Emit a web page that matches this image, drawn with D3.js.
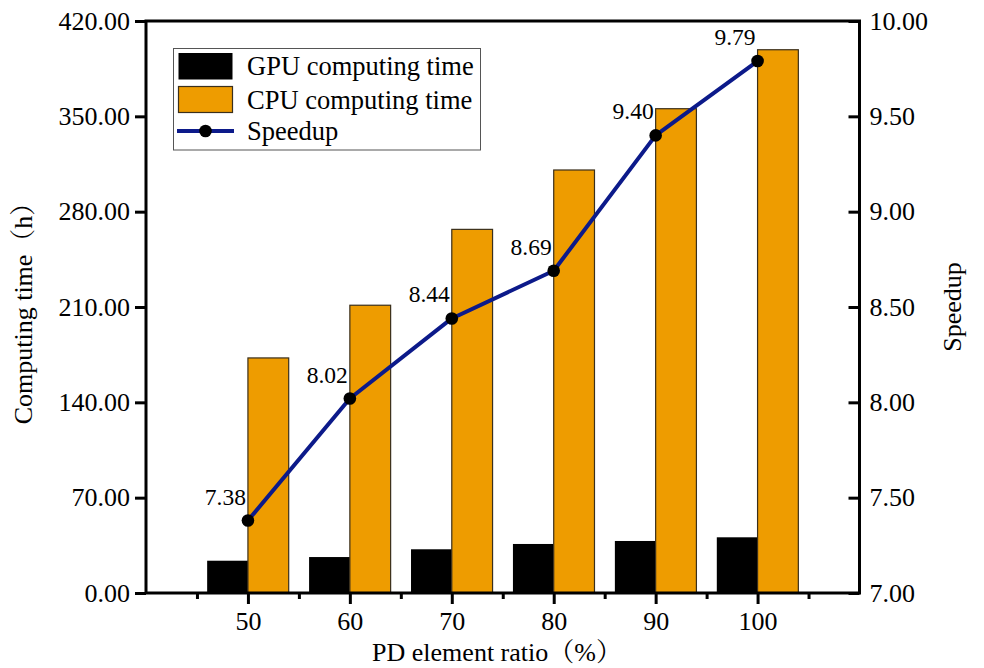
<!DOCTYPE html>
<html>
<head>
<meta charset="utf-8">
<script src="https://cdn.jsdelivr.net/npm/d3@7"></script>
<style>
  html, body { margin: 0; padding: 0; background: #fff; }
</style>
</head>
<body>
<svg id="chart" width="984" height="668"></svg>
<script>
// PD element ratio (%) on the x axis
const ratios = [50, 60, 70, 80, 90, 100];
// computing time in hours
const gpuTime = [23.7, 26.4, 32.1, 36.0, 38.2, 40.9];
const cpuTime = [172.6, 211.3, 267.0, 310.6, 355.6, 398.9];
// speedup = CPU time / GPU time
const speedup = [7.38, 8.02, 8.44, 8.69, 9.40, 9.79];

const leftTicks = [0, 70, 140, 210, 280, 350, 420];
const rightTicks = [7.0, 7.5, 8.0, 8.5, 9.0, 9.5, 10.0];
const minorTicks = [45, 55, 65, 75, 85, 95, 105];

const FONT = '"Liberation Serif", "Times New Roman", "Noto Serif CJK SC", "Noto Sans CJK SC", serif';

const svg = d3.select("#chart");
const m = { left: 146, right: 859.5, top: 21, bottom: 593 };

const x = d3.scaleLinear().domain([40, 110]).range([m.left, m.right]);
const yL = d3.scaleLinear().domain([0, 420]).range([m.bottom, m.top]);
const yR = d3.scaleLinear().domain([7, 10]).range([m.bottom, m.top]);
const barW = x(44) - x(40);

function label(sel, size) {
  return sel.style("font-family", FONT).style("font-size", size + "px").attr("fill", "#000");
}

// bars
const g = svg.append("g");
g.selectAll("rect.gpu").data(ratios).join("rect")
  .attr("class", "gpu")
  .attr("x", (d) => x(d) - barW)
  .attr("y", (d, i) => yL(gpuTime[i]))
  .attr("width", barW)
  .attr("height", (d, i) => yL(0) - yL(gpuTime[i]))
  .attr("fill", "#000");
g.selectAll("rect.cpu").data(ratios).join("rect")
  .attr("class", "cpu")
  .attr("x", (d) => x(d))
  .attr("y", (d, i) => yL(cpuTime[i]))
  .attr("width", barW)
  .attr("height", (d, i) => yL(0) - yL(cpuTime[i]))
  .attr("fill", "#EE9C00")
  .attr("stroke", "#3a2f1c")
  .attr("stroke-width", 1.2);

// speedup line
const line = d3.line().x((d) => x(d)).y((d, i) => yR(speedup[i]));
svg.append("path").datum(ratios)
  .attr("d", line)
  .attr("fill", "none")
  .attr("stroke", "#0c1a8a")
  .attr("stroke-width", 4)
  .attr("stroke-linejoin", "round");
svg.selectAll("circle.pt").data(ratios).join("circle")
  .attr("class", "pt")
  .attr("cx", (d) => x(d))
  .attr("cy", (d, i) => yR(speedup[i]))
  .attr("r", 6.3)
  .attr("fill", "#000");
svg.selectAll("text.val").data(ratios).join("text")
  .attr("class", "val")
  .attr("x", (d) => x(d) - 2)
  .attr("y", (d, i) => yR(speedup[i]) - 16)
  .attr("text-anchor", "end")
  .call(label, 23.5)
  .text((d, i) => speedup[i].toFixed(2));

// axes
const axisW = 3;
function styleAxis(sel) {
  sel.selectAll("path.domain").remove();
  sel.selectAll(".tick line").attr("stroke", "#000").attr("stroke-width", axisW);
  sel.selectAll(".tick text").call(label, 26);
}

const axL = svg.append("g").attr("transform", `translate(${m.left},0)`)
  .call(d3.axisLeft(yL).tickValues(leftTicks).tickSize(11).tickPadding(5).tickFormat(d3.format(".2f")));
styleAxis(axL);

const axR = svg.append("g").attr("transform", `translate(${m.right},0)`)
  .call(d3.axisRight(yR).tickValues(rightTicks).tickSize(0).tickPadding(10).tickFormat(d3.format(".2f")));
styleAxis(axR);
axR.selectAll(".tick line").attr("x1", -11).attr("x2", 0);

const axB = svg.append("g").attr("transform", `translate(0,${m.bottom})`)
  .call(d3.axisBottom(x).tickValues(ratios).tickSize(11).tickPadding(8).tickFormat(d3.format("d")));
styleAxis(axB);
const axBm = svg.append("g").attr("transform", `translate(0,${m.bottom})`)
  .call(d3.axisBottom(x).tickValues(minorTicks).tickSize(6).tickFormat(""));
styleAxis(axBm);

// frame
svg.append("rect")
  .attr("x", m.left).attr("y", m.top)
  .attr("width", m.right - m.left).attr("height", m.bottom - m.top)
  .attr("fill", "none").attr("stroke", "#000").attr("stroke-width", axisW);

// axis titles
svg.append("text")
  .attr("x", 497).attr("y", 661)
  .attr("text-anchor", "middle").call(label, 26)
  .text("PD element ratio（%）");
svg.append("text")
  .attr("transform", `translate(32,${(m.top + m.bottom) / 2}) rotate(-90)`)
  .attr("text-anchor", "middle").call(label, 26)
  .text("Computing time（h）");
svg.append("text")
  .attr("transform", `translate(961,${(m.top + m.bottom) / 2}) rotate(-90)`)
  .attr("text-anchor", "middle").call(label, 26)
  .text("Speedup");

// legend
const lg = svg.append("g");
lg.append("rect").attr("x", 173.5).attr("y", 48.5).attr("width", 307).attr("height", 101.5)
  .attr("fill", "#fff").attr("stroke", "#555").attr("stroke-width", 1);
const legendItems = ["GPU computing time", "CPU computing time", "Speedup"];
const rowY = [66, 99.5, 131];
lg.append("rect").attr("x", 178.5).attr("y", 53).attr("width", 54).attr("height", 26.5).attr("fill", "#000");
lg.append("rect").attr("x", 178.5).attr("y", 86.5).attr("width", 54).attr("height", 26)
  .attr("fill", "#EE9C00").attr("stroke", "#3a2f1c").attr("stroke-width", 1.2);
lg.append("line").attr("x1", 177).attr("x2", 234).attr("y1", rowY[2]).attr("y2", rowY[2])
  .attr("stroke", "#0c1a8a").attr("stroke-width", 4);
lg.append("circle").attr("cx", 205.5).attr("cy", rowY[2]).attr("r", 6.3).attr("fill", "#000");
lg.selectAll("text").data(legendItems).join("text")
  .attr("x", 247).attr("y", (d, i) => rowY[i])
  .attr("dy", "0.35em")
  .call(label, 26.5)
  .text((d) => d);
</script>
</body>
</html>
